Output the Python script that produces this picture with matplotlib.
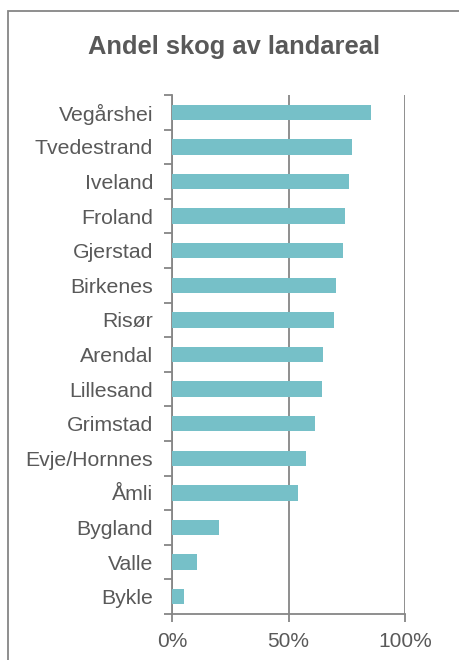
import matplotlib
matplotlib.use('Agg')
import matplotlib.pyplot as plt
from matplotlib.patches import Rectangle
from matplotlib.ticker import FuncFormatter

plt.rcParams['font.family'] = ['Liberation Sans', 'DejaVu Sans']

TITLE = 'Andel skog av landareal'

KOMMUNER = ['Vegårshei', 'Tvedestrand', 'Iveland', 'Froland', 'Gjerstad',
            'Birkenes', 'Risør', 'Arendal', 'Lillesand', 'Grimstad',
            'Evje/Hornnes', 'Åmli', 'Bygland', 'Valle', 'Bykle']
ANDEL = [85.3, 77.3, 76.1, 74.4, 73.4, 70.4, 69.5, 64.9, 64.2, 61.5,
         57.6, 54.0, 20.1, 10.7, 5.2]
XTICKS = [0, 50, 100]

BAR = '#76C0C8'
TEXT = '#595959'
LINE = '#868686'

fig = plt.figure(figsize=(4.59, 6.60), dpi=100)
ax = fig.add_axes([172 / 459, 1 - 614 / 660, (405 - 172) / 459, (614 - 95) / 660])

# frame round the whole chart, runs off the right and bottom edges
fig.patches.append(Rectangle((8 / 459, -0.01), 1.0, 1 - 11 / 660 + 0.01,
                             transform=fig.transFigure, fill=False,
                             edgecolor=LINE, linewidth=1.3))

n = len(KOMMUNER)
ypos = list(range(n))[::-1]
ax.barh(ypos, ANDEL, height=0.45, color=BAR, zorder=3)

ax.set_xlim(0, 100)
ax.set_ylim(-0.5, n - 0.5)
ax.set_xticks(XTICKS)
ax.xaxis.set_major_formatter(FuncFormatter(lambda v, p: f'{v:.0f}%'))
# category boundaries get the tick marks, the names sit in between
ax.set_yticks([y - 0.5 for y in range(n + 1)])
ax.set_yticklabels([])
ax.set_yticks(ypos, KOMMUNER, minor=True)

ax.tick_params(axis='y', which='major', length=6, width=1.3, color=LINE)
ax.tick_params(axis='y', which='minor', length=0, pad=19 * 0.72,
               labelsize=15.3, labelcolor=TEXT)
ax.tick_params(axis='x', length=6, width=1.3, color=LINE, pad=7,
               labelsize=15, labelcolor=TEXT)

ax.grid(axis='x', color=LINE, linewidth=1.3, zorder=0)
for s in ['top', 'right']:
    ax.spines[s].set_visible(False)
for s in ['left', 'bottom']:
    ax.spines[s].set_color(LINE)
    ax.spines[s].set_linewidth(1.3)

fig.text(234 / 459, 1 - 47 / 660, TITLE, ha='center', va='center',
         fontsize=18.4, fontweight='bold', color=TEXT)

fig.savefig('out.png', dpi=100)
